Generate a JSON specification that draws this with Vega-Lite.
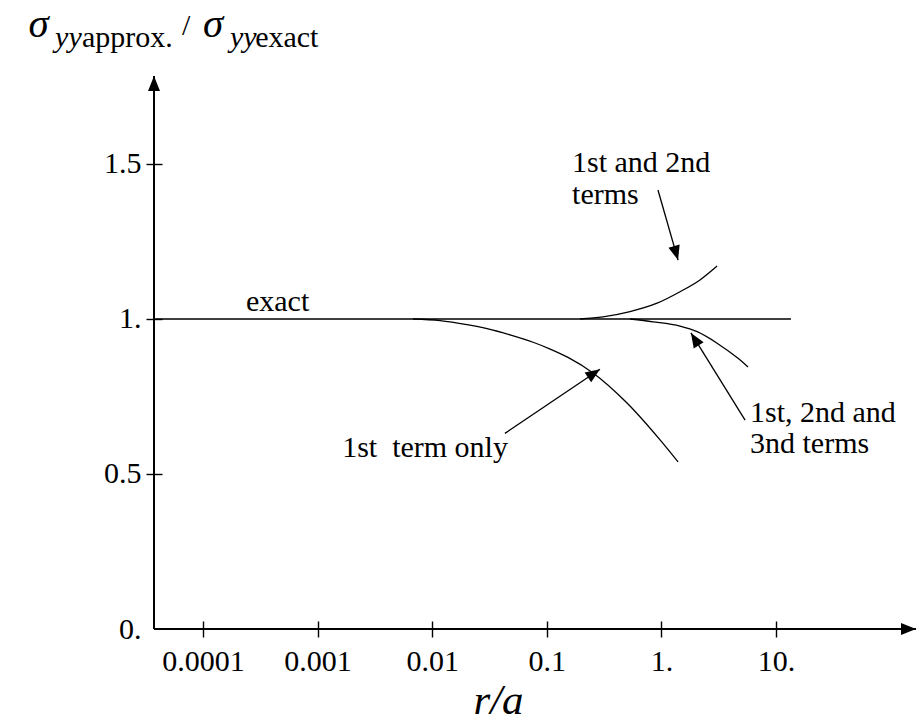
{
  "$schema": "https://vega.github.io/schema/vega-lite/v6.json",
  "width": 762,
  "height": 553,
  "autosize": {"type": "none"},
  "padding": {"left": 154, "top": 76, "right": 5, "bottom": 92},
  "view": {"stroke": null},
  "encoding": {
    "x": {
      "field": "r",
      "type": "quantitative",
      "scale": {"type": "log", "domain": [3.735e-5, 166.5], "nice": false},
      "axis": {
        "values": [0.0001, 0.001, 0.01, 0.1, 1, 10],
        "offset": -8,
        "tickSize": 16,
        "tickColor": "black",
        "tickWidth": 1.4,
        "domain": false,
        "grid": false,
        "labelFont": "Liberation Serif",
        "labelFontSize": 30,
        "labelColor": "black",
        "labelBaseline": "alphabetic",
        "labelPadding": 33,
        "labelFlush": false,
        "labelOverlap": false,
        "labelBound": false,
        "labelExpr": "datum.value >= 1 ? format(datum.value, 'd') + '.' : format(datum.value, '~g')",
        "title": "r/a",
        "titleFont": "Liberation Serif",
        "titleFontStyle": "italic",
        "titleFontWeight": "normal",
        "titleFontSize": 43,
        "titleColor": "black",
        "titleX": 344,
        "titleY": 92,
        "titleAlign": "center",
        "titleBaseline": "alphabetic"
      }
    },
    "y": {
      "field": "ratio",
      "type": "quantitative",
      "scale": {"domain": [0, 1.78387], "nice": false, "zero": false},
      "axis": {
        "values": [0, 0.5, 1, 1.5],
        "offset": -8,
        "tickSize": 16,
        "tickColor": "black",
        "tickWidth": 1.4,
        "tickOpacity": {"condition": {"test": "datum.value == 0", "value": 0}, "value": 1},
        "domain": false,
        "grid": false,
        "labelFont": "Liberation Serif",
        "labelFontSize": 30,
        "labelColor": "black",
        "labelPadding": 5,
        "labelOverlap": false,
        "labelBound": false,
        "labelFlush": false,
        "labelExpr": "datum.value == 0 ? '0.' : datum.value == 1 ? '1.' : format(datum.value, '.1f')",
        "title": null
      }
    }
  },
  "layer": [
    {
      "data": {"values": [
        {"series": "exact", "r": 3.735e-5, "ratio": 1},
        {"series": "exact", "r": 13.5, "ratio": 1}
      ]},
      "mark": {"type": "line", "color": "black", "strokeWidth": 1.6},
      "encoding": {"detail": {"field": "series"}}
    },
    {
      "data": {"values": [
        {"series": "1st term only", "r": 0.0068, "ratio": 1.0},
        {"series": "1st term only", "r": 0.0117, "ratio": 0.995},
        {"series": "1st term only", "r": 0.0201, "ratio": 0.982},
        {"series": "1st term only", "r": 0.0301, "ratio": 0.969},
        {"series": "1st term only", "r": 0.0477, "ratio": 0.949},
        {"series": "1st term only", "r": 0.0759, "ratio": 0.925},
        {"series": "1st term only", "r": 0.107, "ratio": 0.903},
        {"series": "1st term only", "r": 0.153, "ratio": 0.876},
        {"series": "1st term only", "r": 0.253, "ratio": 0.826},
        {"series": "1st term only", "r": 0.501, "ratio": 0.729},
        {"series": "1st term only", "r": 0.973, "ratio": 0.61},
        {"series": "1st term only", "r": 1.397, "ratio": 0.539},
        {"series": "1st and 2nd terms", "r": 0.195, "ratio": 1.0},
        {"series": "1st and 2nd terms", "r": 0.309, "ratio": 1.007},
        {"series": "1st and 2nd terms", "r": 0.532, "ratio": 1.024},
        {"series": "1st and 2nd terms", "r": 0.916, "ratio": 1.051},
        {"series": "1st and 2nd terms", "r": 1.453, "ratio": 1.088},
        {"series": "1st and 2nd terms", "r": 2.17, "ratio": 1.126},
        {"series": "1st and 2nd terms", "r": 3.06, "ratio": 1.171},
        {"series": "1st, 2nd and 3nd terms", "r": 0.532, "ratio": 1.0},
        {"series": "1st, 2nd and 3nd terms", "r": 0.845, "ratio": 0.991},
        {"series": "1st, 2nd and 3nd terms", "r": 1.453, "ratio": 0.977},
        {"series": "1st, 2nd and 3nd terms", "r": 2.05, "ratio": 0.959},
        {"series": "1st, 2nd and 3nd terms", "r": 3.06, "ratio": 0.922},
        {"series": "1st, 2nd and 3nd terms", "r": 4.66, "ratio": 0.873},
        {"series": "1st, 2nd and 3nd terms", "r": 5.7, "ratio": 0.845}
      ]},
      "mark": {"type": "line", "color": "black", "strokeWidth": 1.3, "interpolate": "monotone"},
      "encoding": {"detail": {"field": "series"}}
    },
    {
      "data": {"values": [
        {"r": 3.735e-5, "ratio": 0, "r2": 166.5, "ratio2": 0},
        {"r": 3.735e-5, "ratio": 0, "r2": 3.735e-5, "ratio2": 1.78387}
      ]},
      "mark": {"type": "rule", "color": "black", "strokeWidth": 2},
      "encoding": {"x2": {"field": "r2"}, "y2": {"field": "ratio2"}}
    },
    {
      "data": {"values": [{"r": 166.5, "ratio": 0}]},
      "mark": {"type": "point", "shape": "M0,0L-0.4,1L0.4,1Z", "filled": true, "opacity": 1, "color": "black", "strokeWidth": 0, "size": 900, "angle": 90}
    },
    {
      "data": {"values": [{"r": 3.735e-5, "ratio": 1.78387}]},
      "mark": {"type": "point", "shape": "M0,0L-0.4,1L0.4,1Z", "filled": true, "opacity": 1, "color": "black", "strokeWidth": 0, "size": 900, "angle": 0}
    },
    {
      "data": {"values": [
        {"r": 0.933, "ratio": 1.416, "r2": 1.397, "ratio2": 1.19},
        {"r": 5.37, "ratio": 0.674, "r2": 1.81, "ratio2": 0.955},
        {"r": 0.0431, "ratio": 0.631, "r2": 0.291, "ratio2": 0.838}
      ]},
      "mark": {"type": "rule", "color": "black", "strokeWidth": 1.3},
      "encoding": {"x2": {"field": "r2"}, "y2": {"field": "ratio2"}}
    },
    {
      "data": {"values": [{"r": 1.397, "ratio": 1.19}]},
      "mark": {"type": "point", "shape": "M0,0L-0.4,1L0.4,1Z", "filled": true, "opacity": 1, "color": "black", "strokeWidth": 0, "size": 850, "angle": 164}
    },
    {
      "data": {"values": [{"r": 1.81, "ratio": 0.955}]},
      "mark": {"type": "point", "shape": "M0,0L-0.4,1L0.4,1Z", "filled": true, "opacity": 1, "color": "black", "strokeWidth": 0, "size": 850, "angle": -32}
    },
    {
      "data": {"values": [{"r": 0.291, "ratio": 0.838}]},
      "mark": {"type": "point", "shape": "M0,0L-0.4,1L0.4,1Z", "filled": true, "opacity": 1, "color": "black", "strokeWidth": 0, "size": 850, "angle": 56}
    },
    {
      "data": {"values": [
        {"label": "exact", "r": 2.37e-4, "ratio": 1.026},
        {"label": "1st and 2nd", "r": 0.166, "ratio": 1.475},
        {"label": "terms", "r": 0.166, "ratio": 1.372},
        {"label": "1st, 2nd and", "r": 5.93, "ratio": 0.668},
        {"label": "3nd terms", "r": 5.93, "ratio": 0.567}
      ]},
      "mark": {"type": "text", "align": "left", "baseline": "alphabetic", "font": "Liberation Serif", "fontSize": 30, "color": "black"},
      "encoding": {"text": {"field": "label"}}
    },
    {
      "data": {"values": [{"label": "1st\u00a0 term only", "r": 0.0458, "ratio": 0.556}]},
      "mark": {"type": "text", "align": "right", "baseline": "alphabetic", "font": "Liberation Serif", "fontSize": 30, "color": "black"},
      "encoding": {"text": {"field": "label"}}
    },
    {
      "data": {"values": [
        {"label": "σ", "r": 3.0e-6, "ratio": 1.91},
        {"label": "σ", "r": 1.0e-4, "ratio": 1.91}
      ]},
      "mark": {"type": "text", "align": "left", "baseline": "alphabetic", "font": "Liberation Serif", "fontStyle": "italic", "fontSize": 41, "color": "black"},
      "encoding": {"text": {"field": "label"}}
    },
    {
      "data": {"values": [
        {"label": "yy", "r": 5.12e-6, "ratio": 1.878},
        {"label": "yy", "r": 1.72e-4, "ratio": 1.878}
      ]},
      "mark": {"type": "text", "align": "left", "baseline": "alphabetic", "font": "Liberation Serif", "fontStyle": "italic", "fontSize": 30, "color": "black"},
      "encoding": {"text": {"field": "label"}}
    },
    {
      "data": {"values": [
        {"label": "approx.", "r": 8.79e-6, "ratio": 1.878},
        {"label": "/", "r": 6.56e-5, "ratio": 1.916},
        {"label": "exact", "r": 2.85e-4, "ratio": 1.878}
      ]},
      "mark": {"type": "text", "align": "left", "baseline": "alphabetic", "font": "Liberation Serif", "fontSize": 30, "color": "black"},
      "encoding": {"text": {"field": "label"}}
    }
  ]
}
